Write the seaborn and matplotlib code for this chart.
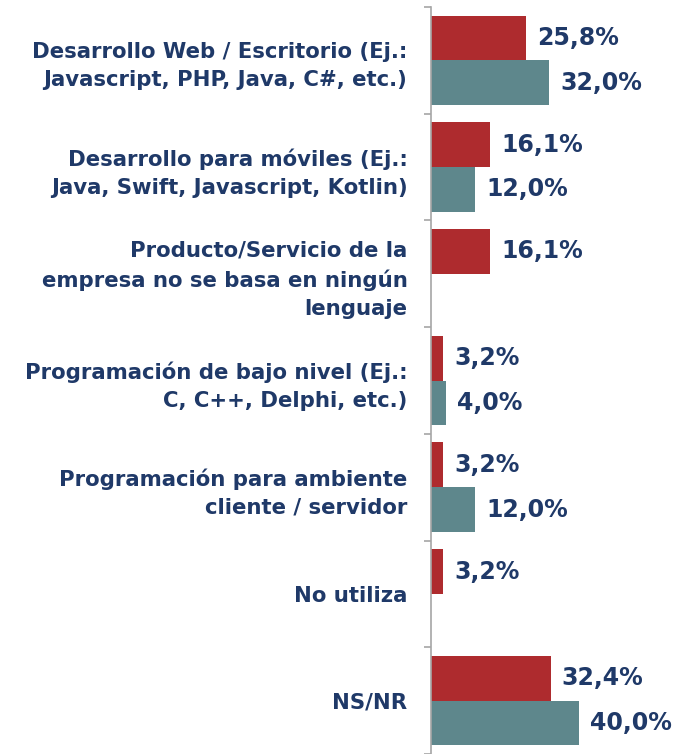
import matplotlib
matplotlib.use("Agg")
import matplotlib.pyplot as plt
import seaborn as sns
import pandas as pd
import numpy as np

categories = [
    "Desarrollo Web / Escritorio (Ej.:\nJavascript, PHP, Java, C#, etc.)",
    "Desarrollo para móviles (Ej.:\nJava, Swift, Javascript, Kotlin)",
    "Producto/Servicio de la\nempresa no se basa en ningún\nlenguaje",
    "Programación de bajo nivel (Ej.:\nC, C++, Delphi, etc.)",
    "Programación para ambiente\ncliente / servidor",
    "No utiliza",
    "NS/NR",
]
series_names = ["Serie 1", "Serie 2"]
serie_1 = [25.8, 16.1, 16.1, 3.2, 3.2, 3.2, 32.4]
serie_2 = [32.0, 12.0, np.nan, 4.0, 12.0, np.nan, 40.0]

red = "#AE2B2E"
teal = "#5E878C"
navy = "#1F3968"

df = pd.DataFrame({
    "categoria": categories * 2,
    "serie": [series_names[0]] * len(categories) + [series_names[1]] * len(categories),
    "valor": serie_1 + serie_2,
}).dropna()

sns.set_style("white")
plt.rcParams["font.family"] = ["DejaVu Sans"]

W, H = 689, 754
fig = plt.figure(figsize=(W / 100, H / 100), dpi=100)
ax = fig.add_axes([431 / W, 0, 258 / W, (H - 7) / H])

sns.barplot(data=df, y="categoria", x="valor", hue="serie", order=categories,
            hue_order=series_names, palette=[red, teal], saturation=1, width=0.84,
            orient="y", ax=ax, legend=False, edgecolor="none", linewidth=0)

ax.set_xlim(0, 258 / 3.69)
ax.set_ylim(len(categories) - 0.5, -0.5)

for cont in ax.containers:
    labels = [f"{v:.1f}".replace(".", ",") + "%" for v in cont.datavalues]
    ax.bar_label(cont, labels=labels, padding=8, fontsize=17, fontweight="bold", color=navy)

# axis look
for side in ["top", "right", "bottom"]:
    ax.spines[side].set_visible(False)
ax.spines["left"].set_color("#A6A6A6")
ax.spines["left"].set_linewidth(1.2)
ax.set_xticks([])
ax.set_xlabel("")
ax.set_ylabel("")
ax.set_yticks(range(len(categories)))
ax.set_yticklabels(categories, fontsize=15.3, fontweight="bold", color=navy, linespacing=1.5)
ax.set_yticks(np.arange(-0.5, len(categories) + 0.5, 1), minor=True)
ax.tick_params(axis="y", which="major", length=0, pad=17)
ax.tick_params(axis="y", which="minor", length=5, width=1.2, color="#A6A6A6", left=True)

fig.savefig("out.png", dpi=100)
